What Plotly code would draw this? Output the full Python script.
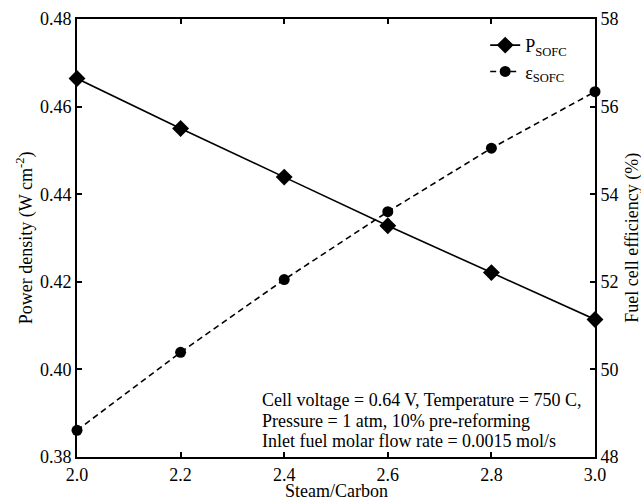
import plotly.graph_objects as go

steam_carbon = [2.0, 2.2, 2.4, 2.6, 2.8, 3.0]
power_density = [0.4664, 0.4550, 0.4439, 0.4328, 0.4221, 0.4114]
efficiency = [48.61, 50.39, 52.05, 53.60, 55.05, 56.34]

x_ticks = [2.0, 2.2, 2.4, 2.6, 2.8, 3.0]
y1_ticks = [0.38, 0.40, 0.42, 0.44, 0.46, 0.48]
y2_ticks = [48, 50, 52, 54, 56, 58]

note_lines = ["Cell voltage = 0.64 V, Temperature = 750 C,",
              "Pressure = 1 atm, 10% pre-reforming",
              "Inlet fuel molar flow rate = 0.0015 mol/s"]

FONT = "Liberation Serif, Times New Roman, Times, serif"

fig = go.Figure()
fig.add_trace(go.Scatter(
    x=steam_carbon, y=power_density, mode="lines+markers",
    name="P<sub>SOFC</sub>",
    line=dict(color="black", width=1.6),
    marker=dict(symbol="diamond", size=13, color="black"),
    cliponaxis=False, yaxis="y"))
fig.add_trace(go.Scatter(
    x=steam_carbon, y=efficiency, mode="lines+markers",
    name="ε<sub>SOFC</sub>",
    line=dict(color="black", width=1.6, dash="6px,4px"),
    marker=dict(symbol="circle", size=11, color="black"),
    cliponaxis=False, yaxis="y2"))

axis_common = dict(showline=True, linecolor="black", linewidth=2,
                   ticks="inside", ticklen=5, tickwidth=1.5, tickcolor="black",
                   showgrid=False, zeroline=False, automargin=False,
                   tickfont=dict(family=FONT, size=18, color="black"))

fig.update_layout(
    width=641, height=500,
    margin=dict(l=77, r=46, t=19, b=43),
    paper_bgcolor="white", plot_bgcolor="white",
    font=dict(family=FONT, color="black"),
    xaxis=dict(range=[2.0, 3.0], tickvals=x_ticks, ticktext=[f"{v:.1f}" for v in x_ticks],
               mirror="ticks",
               **axis_common),
    yaxis=dict(range=[0.38, 0.48], tickvals=y1_ticks, ticktext=[f"{v:.2f}" for v in y1_ticks],
               **axis_common),
    yaxis2=dict(range=[48, 58], tickvals=y2_ticks, ticktext=[str(v) for v in y2_ticks],
                overlaying="y", side="right",
                **axis_common),
    legend=dict(x=0.788, xanchor="left", y=0.982, yanchor="top",
                bgcolor="rgba(0,0,0,0)", font=dict(family=FONT, size=18),
                tracegroupgap=2),
    showlegend=True,
)

fig.add_annotation(
    xref="paper", yref="paper", x=0.5, y=-0.077, xanchor="center", yanchor="middle",
    showarrow=False, text="Steam/Carbon",
    font=dict(family=FONT, size=18, color="black"))
fig.add_annotation(
    xref="paper", yref="paper", x=-0.100, y=0.5, xanchor="center", yanchor="middle",
    textangle=-90, showarrow=False,
    text="Power density (W cm<sup>-2</sup>)",
    font=dict(family=FONT, size=18, color="black"))
fig.add_annotation(
    xref="paper", yref="paper", x=1.071, y=0.5, xanchor="center", yanchor="middle",
    textangle=-90, showarrow=False,
    text="Fuel cell efficiency (%)",
    font=dict(family=FONT, size=18, color="black"))

for line, yp in zip(note_lines, [0.130, 0.083, 0.037]):
    fig.add_annotation(
        xref="paper", yref="paper", x=0.353, y=yp, xanchor="left", yanchor="middle",
        align="left", showarrow=False, text=line,
        font=dict(family=FONT, size=18, color="black"))

fig.write_html("out.html", config={"displayModeBar": False},
               post_script="document.body.style.margin='0px';")
